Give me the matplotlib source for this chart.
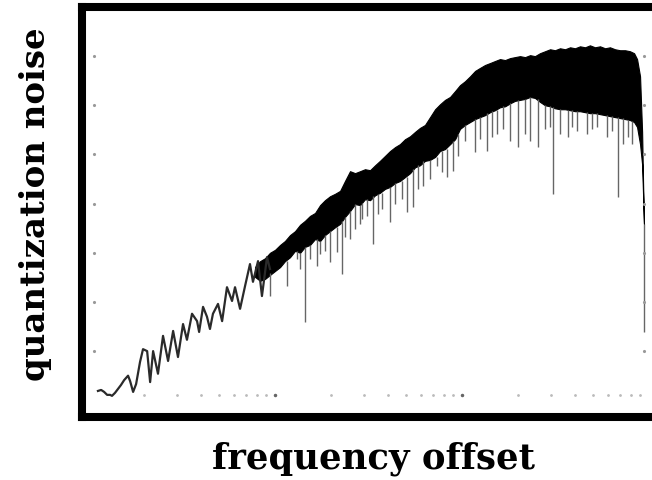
import numpy as np
import matplotlib
matplotlib.use("Agg")
import matplotlib.pyplot as plt

# frequency offsets as log10(Hz), noise levels in dB

# low-offset part: a single thin wavy trace
lf_exp = [3.053, 3.070, 3.086, 3.102, 3.118, 3.128, 3.144, 3.160, 3.176, 3.193,
          3.214, 3.225, 3.241, 3.257, 3.278, 3.294, 3.316, 3.332, 3.348, 3.374,
          3.401, 3.428, 3.455, 3.481, 3.508, 3.529, 3.556, 3.583, 3.594, 3.615,
          3.636, 3.652, 3.668, 3.695, 3.717, 3.743, 3.770, 3.786, 3.813, 3.840,
          3.866, 3.882, 3.909, 3.930, 3.957, 3.973]
lf_db = [-148.1, -147.9, -148.3, -148.9, -148.9, -149.1, -148.5, -147.7, -146.9, -145.9,
         -145.0, -146.1, -148.3, -146.7, -142.2, -139.6, -140.0, -146.3, -140.0, -144.6,
         -136.9, -142.0, -135.9, -141.2, -134.5, -137.7, -132.4, -133.9, -136.1, -131.0,
         -133.0, -135.5, -132.4, -130.4, -133.9, -127.0, -129.8, -127.0, -131.4, -126.7,
         -122.3, -125.9, -121.7, -128.8, -120.9, -123.3]

# higher offsets: dense noisy band, upper and lower edge of the solid part
band_exp = [3.893, 3.920, 3.947, 3.973, 4.000, 4.027, 4.053, 4.080, 4.107, 4.134,
            4.160, 4.187, 4.214, 4.241, 4.267, 4.294, 4.321, 4.348, 4.374, 4.401,
            4.428, 4.455, 4.481, 4.508, 4.535, 4.561, 4.588, 4.615, 4.642, 4.668,
            4.695, 4.722, 4.749, 4.775, 4.802, 4.829, 4.856, 4.882, 4.909, 4.936,
            4.963, 4.989, 5.016, 5.043, 5.070, 5.096, 5.123, 5.150, 5.176, 5.203,
            5.230, 5.257, 5.283, 5.310, 5.337, 5.364, 5.390, 5.417, 5.444, 5.471,
            5.497, 5.524, 5.551, 5.578, 5.604, 5.631, 5.658, 5.684, 5.711, 5.738,
            5.765, 5.791, 5.818, 5.845, 5.872, 5.898, 5.920, 5.936, 5.952, 5.963,
            5.968, 5.973]
band_top = [-122.9, -121.7, -121.1, -120.0, -119.4, -118.4, -117.6, -116.4, -115.6, -114.3,
            -113.5, -112.5, -111.9, -110.3, -109.3, -108.5, -108.0, -107.4, -105.4, -103.4,
            -103.8, -103.4, -103.0, -103.2, -102.2, -101.3, -100.3, -99.3, -98.5, -97.9,
            -96.9, -96.3, -95.4, -94.6, -94.0, -92.4, -90.8, -89.8, -88.9, -88.3,
            -87.1, -85.9, -85.1, -84.1, -83.0, -82.4, -81.8, -81.4, -81.0, -80.6,
            -80.8, -80.4, -80.2, -80.0, -80.2, -79.8, -80.0, -79.4, -79.0, -78.6,
            -78.8, -78.4, -78.6, -78.2, -78.4, -78.0, -78.2, -77.8, -78.2, -78.0,
            -78.4, -78.2, -78.6, -78.8, -78.8, -79.0, -79.4, -80.6, -84.1, -95.4,
            -105.6, -114.1]
band_bot = [-124.9, -125.7, -125.3, -124.5, -123.7, -122.9, -121.7, -120.9, -119.6, -120.0,
            -118.8, -118.4, -117.2, -117.6, -116.4, -115.6, -114.8, -114.1, -112.7, -111.5,
            -110.1, -110.3, -109.1, -109.3, -108.3, -107.8, -107.0, -106.6, -105.8, -105.4,
            -104.6, -103.8, -102.6, -102.2, -101.3, -101.1, -100.5, -99.3, -98.9, -97.9,
            -96.9, -94.8, -94.0, -93.4, -92.8, -92.4, -92.0, -91.4, -91.0, -90.4,
            -90.2, -89.6, -89.1, -88.9, -88.7, -88.3, -88.5, -89.3, -90.0, -90.2,
            -90.6, -90.8, -90.8, -91.0, -91.2, -91.2, -91.4, -91.6, -91.6, -91.8,
            -92.0, -92.2, -92.4, -92.6, -92.8, -93.0, -93.4, -94.4, -97.9, -102.0,
            -108.0, -114.1]

# downward notches hanging below the band (top and bottom of each)
spike_exp = [3.973, 4.064, 4.118, 4.134, 4.160, 4.187, 4.225, 4.241, 4.267, 4.294,
             4.332, 4.358, 4.374, 4.401, 4.428, 4.455, 4.465, 4.492, 4.524, 4.551,
             4.572, 4.615, 4.642, 4.679, 4.706, 4.738, 4.765, 4.791, 4.829, 4.866,
             4.893, 4.920, 4.952, 4.979, 5.016, 5.070, 5.096, 5.134, 5.160, 5.187,
             5.219, 5.257, 5.299, 5.337, 5.364, 5.406, 5.444, 5.471, 5.487, 5.524,
             5.567, 5.588, 5.615, 5.668, 5.695, 5.722, 5.775, 5.802, 5.834, 5.861,
             5.888, 5.909, 5.973]
spike_top = [-124.1, -121.7, -119.6, -120.0, -118.8, -118.4, -117.2, -117.6, -116.4, -115.6,
             -114.8, -113.5, -112.7, -111.5, -110.1, -110.3, -109.9, -109.1, -108.5, -108.0,
             -107.8, -106.6, -105.8, -105.4, -104.6, -103.0, -102.2, -101.3, -101.1, -100.5,
             -99.3, -98.9, -97.3, -95.9, -94.0, -92.8, -92.4, -91.6, -91.2, -91.0,
             -90.2, -89.6, -88.9, -88.7, -88.3, -88.7, -90.0, -90.2, -90.4, -90.8,
             -91.0, -91.0, -91.2, -91.4, -91.6, -91.6, -92.0, -92.2, -92.4, -92.6,
             -93.0, -93.2, -114.1]
spike_db = [-128.8, -126.7, -121.3, -123.3, -134.1, -121.3, -122.7, -120.2, -119.6, -121.9,
            -119.8, -124.3, -116.8, -117.2, -115.2, -114.1, -113.1, -112.5, -118.2, -112.1,
            -111.1, -113.7, -110.1, -109.1, -111.7, -110.7, -107.0, -106.4, -105.0, -102.4,
            -103.6, -104.6, -103.4, -100.3, -97.3, -99.5, -96.9, -99.3, -96.5, -95.9,
            -94.8, -97.3, -98.5, -95.9, -97.3, -98.5, -94.8, -94.4, -108.0, -95.9,
            -96.5, -94.4, -95.2, -95.9, -94.8, -94.4, -96.5, -95.2, -108.7, -97.9,
            -96.5, -97.9, -136.1]

# faint tick marks of the original plot
ytick_db = [-80, -90, -100, -110, -120, -130, -140]
xtick_major = [1e4, 1e5]
xtick_minor = [2e3, 3e3, 4e3, 5e3, 6e3, 7e3, 8e3, 9e3,
               2e4, 3e4, 4e4, 5e4, 6e4, 7e4, 8e4, 9e4,
               2e5, 3e5, 4e5, 5e5, 6e5, 7e5, 8e5, 9e5]


def main():
    fig = plt.figure(figsize=(6.52, 4.81), dpi=100)
    ax = fig.add_axes([0.1250, 0.1310, 0.8873, 0.8524])
    ax.set_xscale("log")

    lf_f = 10 ** np.array(lf_exp)
    band_f = 10 ** np.array(band_exp)
    spike_f = 10 ** np.array(spike_exp)

    ax.vlines(spike_f, spike_db, spike_top, color="#666666", linewidth=1.0)
    ax.fill_between(band_f, band_bot, band_top, color="black", linewidth=0.8)
    ax.plot(lf_f, lf_db, color="#2a2a2a", linewidth=1.6)

    # tiny tick dots
    left_f, right_f = 10 ** 3.032, 10 ** 5.973
    ax.plot([left_f] * len(ytick_db), ytick_db, ".", color="#999999", ms=2.5)
    ax.plot([right_f] * len(ytick_db), ytick_db, ".", color="#999999", ms=2.5)
    ax.plot(xtick_minor, [-148.9] * len(xtick_minor), ".", color="#bbbbbb", ms=2)
    ax.plot(xtick_major, [-148.9] * len(xtick_major), ".", color="#666666", ms=3)

    ax.set_xlim(10 ** 2.965, 10 ** 6.0588)
    ax.set_ylim(-153.4, -70.0)
    ax.set_xticks([])
    ax.set_yticks([])
    ax.minorticks_off()
    for s in ax.spines.values():
        s.set_linewidth(5.8)
        s.set_color("black")

    fig.text(374 / 652, 1 - 469 / 481, "frequency offset", ha="center", va="baseline",
             fontsize=25.5, fontweight="bold", family="DejaVu Serif")
    fig.text(36 / 652, 1 - 204 / 481, "quantization noise", ha="center", va="center",
             rotation=90, fontsize=24.5, fontweight="bold", family="DejaVu Serif")

    fig.savefig("out.png", dpi=100)


if __name__ == "__main__":
    main()
